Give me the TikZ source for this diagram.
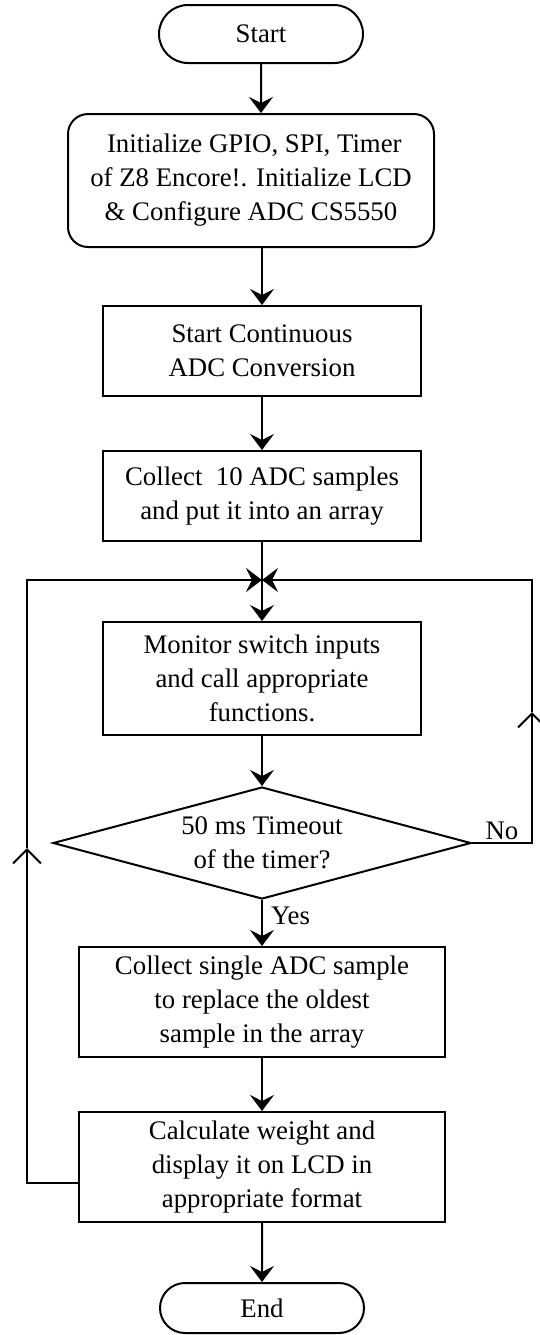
\documentclass[tikz,border=0pt]{standalone}
\usepackage{fontspec}
\setmainfont{Liberation Serif}
\usetikzlibrary{arrows.meta,shapes.geometric,shapes.misc}

\begin{document}
\begin{tikzpicture}[
    x=0.5pt, y=-0.5pt,
    line width=1pt,
    >={Stealth[length=8pt,width=12pt,inset=3pt]},
    every node/.style={font=\fontsize{13.4}{17}\selectfont, align=center},
    term/.style={draw, rounded rectangle, inner sep=0pt, minimum width=102pt},
    initbox/.style={draw, rectangle, rounded corners=10pt, inner sep=0pt, minimum width=183pt, minimum height=66.5pt},
    proc/.style={draw, rectangle, inner sep=0pt, minimum width=159pt},
    wide proc/.style={proc, minimum width=183pt, minimum height=55pt},
    decide/.style={draw, diamond, aspect=3.7, inner sep=0pt, minimum width=209pt, minimum height=56pt},
    mid tip/.style={-{Straight Barb[length=7pt,width=14pt]}}
    ]
\useasboundingbox (0,0) rectangle (540,1335);

\node[term, minimum height=29pt] (start) at (261,34) {Start};
\node[initbox] (init) at (251,180.5) {\ Initialize GPIO, SPI, Timer\\of Z8 Encore!. Initialize LCD\\\& Configure ADC CS5550};
\node[proc, minimum height=45pt] (conv) at (262,351) {Start Continuous\\ADC Conversion};
\node[proc, minimum height=45pt] (collect) at (262,496) {Collect\ \ 10 ADC samples\\and put it into an array};
\node[proc, minimum height=56.5pt] (monitor) at (262,678.5) {Monitor switch inputs\\and call appropriate\\functions.};
\node[decide] (timeout) at (262,843) {50 ms Timeout\\of the timer?};
\node[wide proc] (single) at (262,1002) {Collect single ADC sample\\to replace the oldest\\sample in the array};
\node[wide proc] (calc) at (262,1167) {Calculate weight and\\display it on LCD in\\appropriate format};
\node[term, minimum height=25pt] (end) at (262,1308) {End};

% loop corners
\coordinate (jn) at (262,580);
\coordinate (rt) at (532,580);
\coordinate (rm) at (532,712);
\coordinate (rb) at (532,843);
\coordinate (lt) at (27,580);
\coordinate (lm) at (27,848);
\coordinate (lb) at (27,1183);

\path (start) edge[->] (start |- init.north);
\path (init.south -| conv) edge[->] (conv);
\path (conv) edge[->] (collect);
\path (collect) edge (jn);
\path (jn) edge[->] (monitor);
\path (monitor) edge[->] (timeout);
\path (timeout) edge[->] node[pos=0.35, right, inner sep=4pt] {Yes} (single);
\path (single) edge[->] (calc);
\path (calc) edge[->] (end);

% No branch back to the junction
\draw[mid tip] (timeout.east) -- node[above, inner sep=1pt] {No} (rb) -- (rm);
\draw[->] (rm) -- (rt) -- (jn);

% repeat loop from the last box
\draw[mid tip] (calc.west |- lb) -- (lb) -- (lm);
\draw[->] (lm) -- (lt) -- (jn);
\end{tikzpicture}
\end{document}
